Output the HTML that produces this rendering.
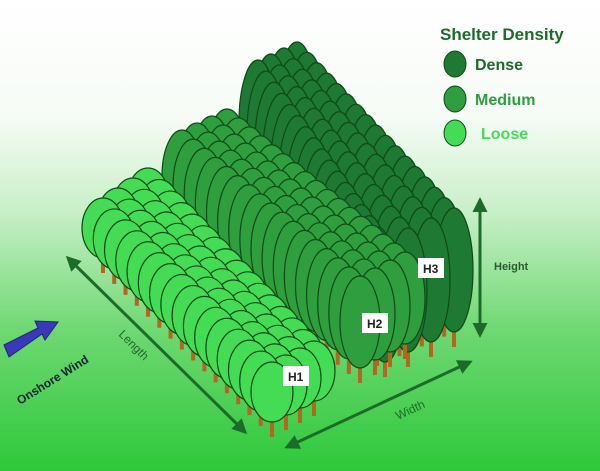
<!DOCTYPE html>
<html><head><style>body{margin:0}svg{display:block}</style></head><body>
<svg id="s" width="600" height="471" xmlns="http://www.w3.org/2000/svg" font-family="Liberation Sans, sans-serif">
<defs>
<linearGradient id="bg" x1="0" y1="0" x2="0" y2="1">
<stop offset="0" stop-color="#ffffff"/><stop offset="0.25" stop-color="#f6fbf6"/><stop offset="0.45" stop-color="#c8efc8"/><stop offset="0.7" stop-color="#6fd872"/><stop offset="1" stop-color="#2ec83a"/></linearGradient>
<marker id="ah" viewBox="0 0 10 10" refX="8" refY="5" markerWidth="5" markerHeight="5" orient="auto-start-reverse"><path d="M0,0L10,5L0,10z" fill="#1d6b2a"/></marker>
</defs>
<rect width="600" height="471" fill="url(#bg)"/>
<g id="trees"></g>
<g stroke="#1d6b2a" stroke-width="3" fill="none">
<line x1="68" y1="258" x2="245" y2="432" marker-start="url(#ah)" marker-end="url(#ah)"/>
<line x1="287" y1="447" x2="470" y2="362" marker-start="url(#ah)" marker-end="url(#ah)"/>
<line x1="480" y1="200" x2="480" y2="335" marker-start="url(#ah)" marker-end="url(#ah)"/>
</g>
<text x="118" y="335" transform="rotate(45 118 335)" font-size="12" fill="#1d6b2a">Length</text>
<text x="398" y="420" transform="rotate(-25 398 420)" font-size="12" fill="#1d6b2a">Width</text>
<text x="494" y="270" font-size="11" font-weight="bold" fill="#2a5a30">Height</text>
<polygon points="4,345 38,328 35,321 58,322 45,340 42,334 9,357" fill="#3a3ab8" stroke="#22227a"/>
<text x="20" y="405" transform="rotate(-32 20 405)" font-size="12" font-weight="bold" fill="#123">Onshore Wind</text>
<text x="440" y="40" font-size="17" font-weight="bold" fill="#1d6b2a">Shelter Density</text>
<ellipse cx="455" cy="64" rx="11" ry="13" fill="#1e7a32" stroke="#0f4a17"/>
<ellipse cx="455" cy="99" rx="11" ry="13" fill="#2f9e3f" stroke="#0f4a17"/>
<ellipse cx="455" cy="133" rx="11" ry="13" fill="#45dc55" stroke="#0f4a17"/>
<text x="475" y="70" font-size="16" font-weight="bold" fill="#1d6b2a">Dense</text>
<text x="475" y="105" font-size="16" font-weight="bold" fill="#2f9e3f">Medium</text>
<text x="481" y="139" font-size="16" font-weight="bold" fill="#45dc55">Loose</text>
<g font-size="12" font-weight="bold" fill="#222">
<rect x="418" y="258" width="26" height="20" fill="#fff"/><text x="423" y="273">H3</text>
<rect x="362" y="313" width="26" height="20" fill="#fff"/><text x="367" y="328">H2</text>
<rect x="283" y="366" width="26" height="20" fill="#fff"/><text x="288" y="381">H1</text>
</g>
</svg>
<script>
var g=document.getElementById('trees'),h='';
function block(x0,y0,x1,y1,n,rows,dxL,dyL,dxR,dyR,rx,ry,fill){
 for(var r=rows-1;r>=0;r--){for(var i=0;i<n;i++){
  var t=i/(n-1),sx=x0+r*dxL,sy=y0+r*dyL,ex=x1+r*dxR,ey=y1+r*dyR;
  var cx=sx+(ex-sx)*t,cy=sy+(ey-sy)*t;
  h+='<rect x="'+(cx-2)+'" y="'+(cy+ry-3)+'" width="4" height="18" fill="#b5651d"/>';
  h+='<ellipse cx="'+cx+'" cy="'+cy+'" rx="'+rx+'" ry="'+ry+'" fill="'+fill+'" stroke="#0f4a17" stroke-width="1.2"/>';
 }}
}
block(258,122,385,300,17,4,13,-6,23,-10,19,62,'#1e7a32');
block(182,176,360,322,17,4,15,-7,15,-8,20,46,'#2f9e3f');
block(103,228,272,392,16,4,15,-10,14,-7,21,30,'#45dc55');
g.innerHTML=h;
</script>
</body></html>
